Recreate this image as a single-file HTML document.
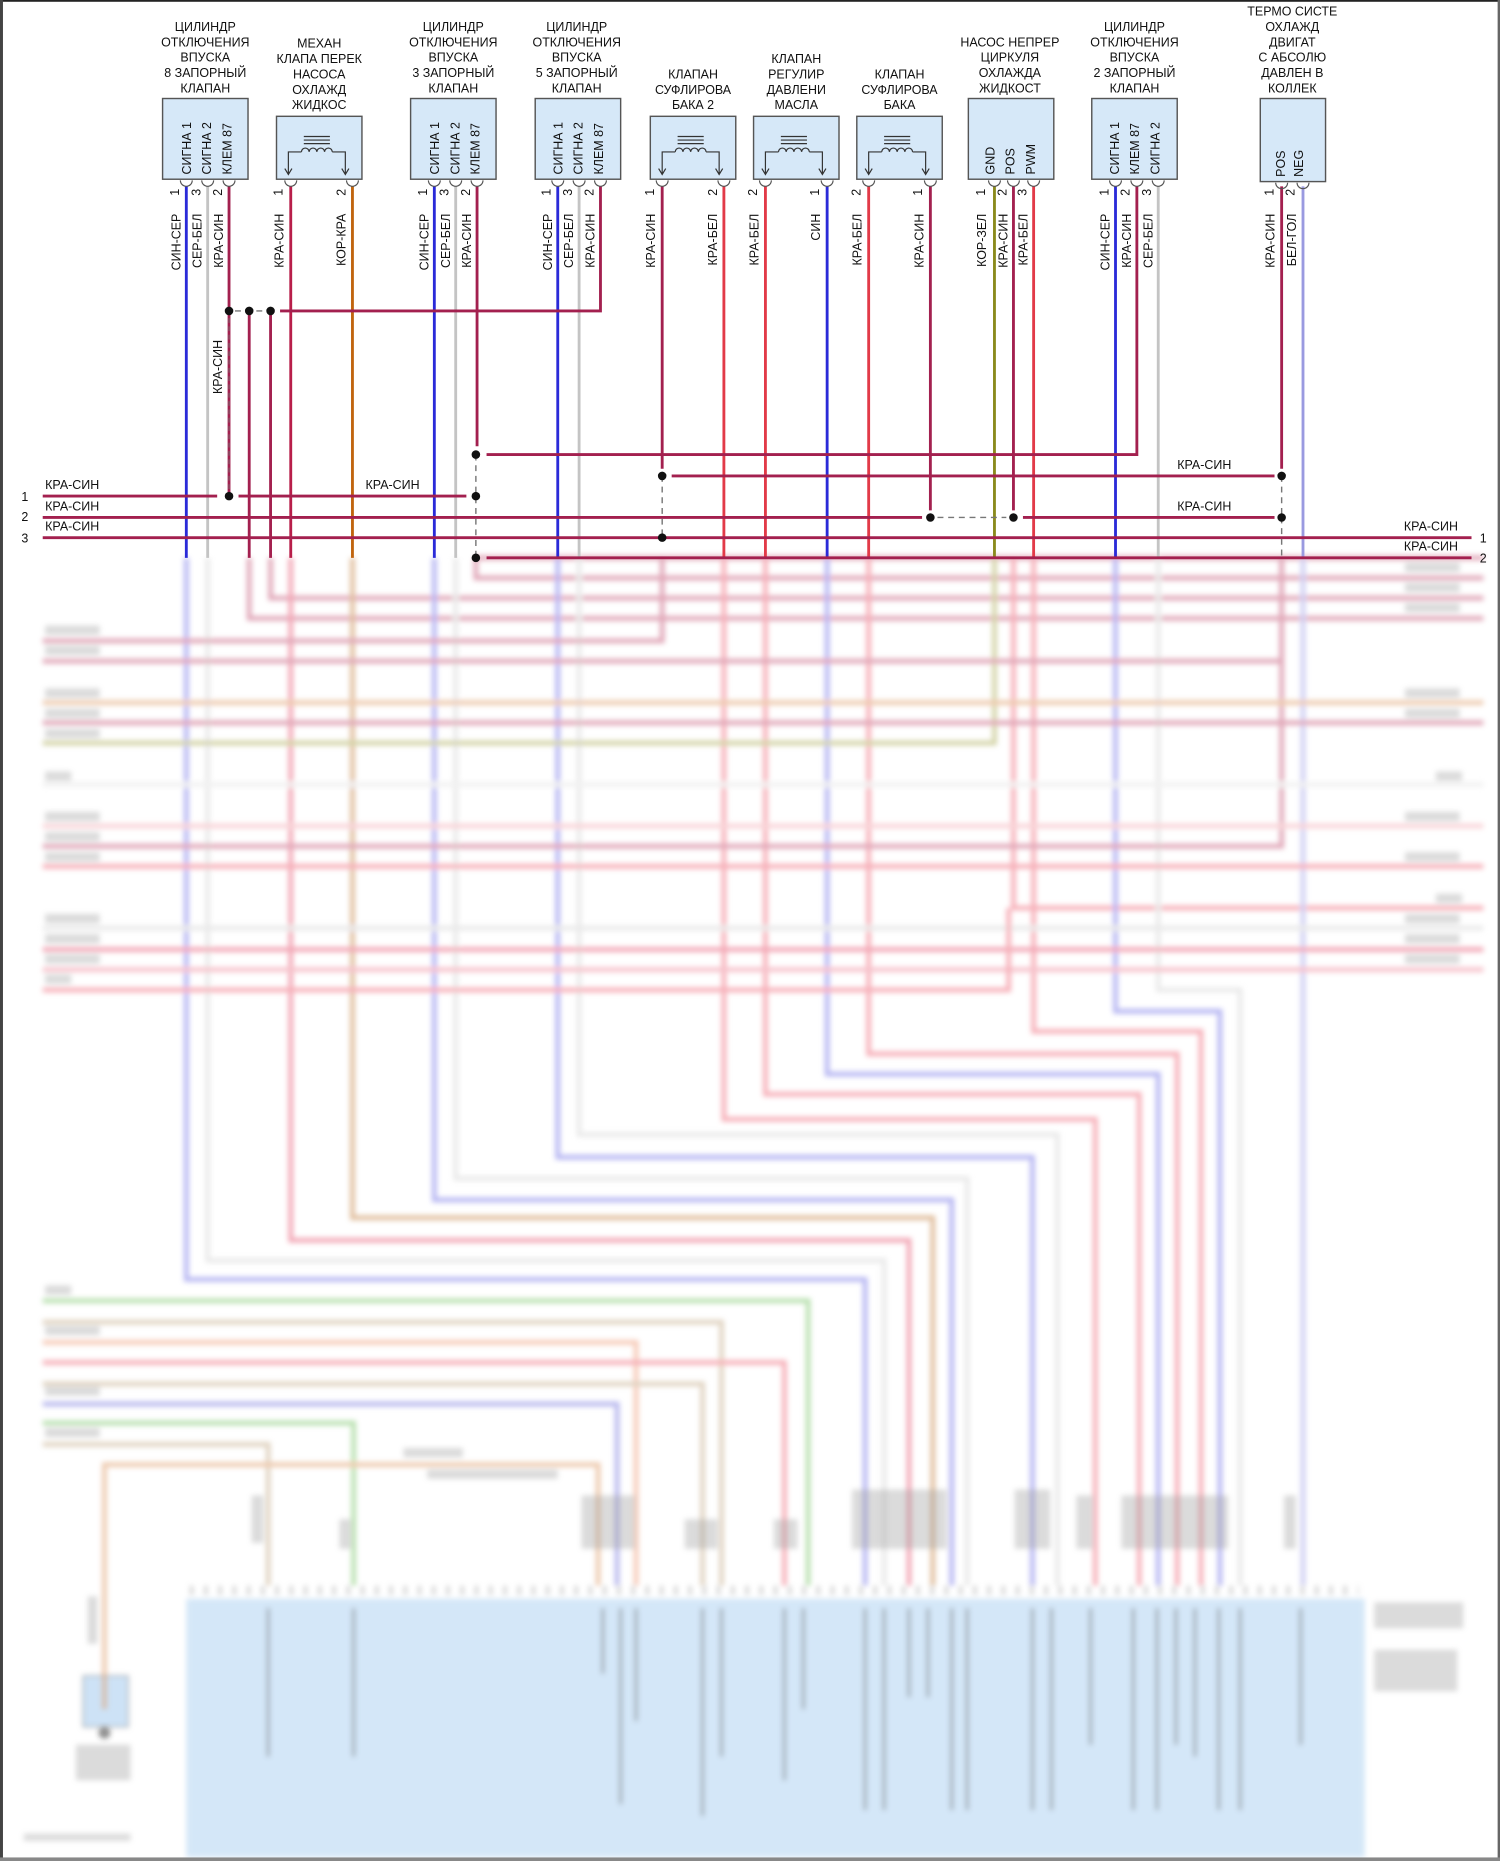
<!DOCTYPE html>
<html><head><meta charset="utf-8"><style>
html,body{margin:0;padding:0;background:#fff;}
svg{display:block;}
text{font-family:"Liberation Sans",sans-serif;fill:#111;}
</style></head><body>
<svg width="1500" height="1861" viewBox="0 0 1264 1568" preserveAspectRatio="none" xmlns="http://www.w3.org/2000/svg">
<defs>
<filter id="bl" x="-5%" y="-5%" width="110%" height="110%"><feGaussianBlur stdDeviation="2.2"/></filter>
</defs>
<rect x="0" y="0" width="1264" height="1568" fill="#fff"/>

<!-- bottom module (under wires) -->
<g filter="url(#bl)">
 <rect x="157" y="1347" width="993" height="218" fill="#d4e7f8"/>
 <rect x="70" y="1412" width="38" height="43" fill="#cde2f6" stroke="#999"/>
</g>

<!-- ============ BLURRED LOWER PART ============ -->
<g filter="url(#bl)" fill="none" stroke-width="4" opacity="0.55">
 <path d="M157 470V1078H729V1336" stroke="#7b7be8"/>
 <path d="M175 470V1062H745V1336" stroke="#d8d8d8"/>
 <path d="M210 470V521H1250" stroke="#c8607f"/>
 <path d="M228 470V504H1250" stroke="#c8607f"/>
 <path d="M245 470V1045H766V1336" stroke="#e8607a"/>
 <path d="M297 470V1026H786V1336" stroke="#c88a50"/>
 <path d="M366 470V1011H802V1336" stroke="#7b7be8"/>
 <path d="M384 470V993H815V1336" stroke="#d8d8d8"/>
 <path d="M401 470V487H1250" stroke="#c8607f"/>
 <path d="M401 470H1250" stroke="#c8607f"/>
 <path d="M470 470V975H870V1336" stroke="#7b7be8"/>
 <path d="M488 470V956H891V1336" stroke="#d8d8d8"/>
 <path d="M558 470V540H36" stroke="#c8607f"/>
 <path d="M610 470V943H923V1336" stroke="#f07080"/>
 <path d="M645 470V922H960V1336" stroke="#f07080"/>
 <path d="M697 470V905H976V1336" stroke="#7b7be8"/>
 <path d="M732 470V888H992V1336" stroke="#f07080"/>
 <path d="M838 470V626H36" stroke="#b0b060"/>
 <path d="M854 470V765H1250" stroke="#f07080"/>
 <path d="M871 470V869H1012V1336" stroke="#f07080"/>
 <path d="M940 470V852H1028V1336" stroke="#7b7be8"/>
 <path d="M976 470V834H1045V1336" stroke="#d8d8d8"/>
 <path d="M1080 470V713H36" stroke="#c8607f"/>
 <path d="M1080 470V557H36" stroke="#c8607f"/>
 <path d="M1098 470V1336" stroke="#a8a8e8"/>
 <path d="M36 592H1250" stroke="#e0a070"/>
 <path d="M36 609H1250" stroke="#c8607f"/>
 <path d="M36 661H1250" stroke="#e6e6e6"/>
 <path d="M36 696H1250" stroke="#f4b0b8"/>
 <path d="M36 730H1250" stroke="#f07080"/>
 <path d="M36 782H1250" stroke="#d8d8d8"/>
 <path d="M36 800H1250" stroke="#e8607a"/>
 <path d="M36 817H1250" stroke="#f090a0"/>
 <path d="M36 834H850V765" stroke="#f07080"/>
 <path d="M36 1096H681V1336" stroke="#80c870"/>
 <path d="M36 1114H608V1336" stroke="#c8b090"/>
 <path d="M36 1131H536V1336" stroke="#f0a080"/>
 <path d="M36 1148H661V1336" stroke="#f07080"/>
 <path d="M36 1166H592V1336" stroke="#c8b090"/>
 <path d="M36 1183H520V1336" stroke="#8080e0"/>
 <path d="M36 1199H298V1336" stroke="#80c870"/>
 <path d="M36 1217H226V1336" stroke="#c8b090"/>
 <path d="M88 1440V1234H504V1336" stroke="#e0a070"/>
</g>
<g filter="url(#bl)" opacity="0.35">
 <g fill="#999">
  <rect x="38" y="527" width="46" height="8"/><rect x="38" y="544" width="46" height="8"/>
  <rect x="38" y="580" width="46" height="8"/><rect x="38" y="597" width="46" height="8"/><rect x="38" y="614" width="46" height="8"/>
  <rect x="38" y="650" width="22" height="8"/><rect x="38" y="684" width="46" height="8"/><rect x="38" y="701" width="46" height="8"/><rect x="38" y="718" width="46" height="8"/>
  <rect x="38" y="770" width="46" height="8"/><rect x="38" y="787" width="46" height="8"/><rect x="38" y="804" width="46" height="8"/><rect x="38" y="821" width="22" height="8"/>
  <rect x="1184" y="474" width="46" height="8"/><rect x="1184" y="491" width="46" height="8"/><rect x="1184" y="508" width="46" height="8"/>
  <rect x="1184" y="580" width="46" height="8"/><rect x="1184" y="597" width="46" height="8"/><rect x="1210" y="650" width="22" height="8"/>
  <rect x="1184" y="684" width="46" height="8"/><rect x="1184" y="718" width="46" height="8"/><rect x="1210" y="753" width="22" height="8"/>
  <rect x="1184" y="770" width="46" height="8"/><rect x="1184" y="787" width="46" height="8"/><rect x="1184" y="804" width="46" height="8"/>
  <rect x="38" y="1083" width="22" height="8"/><rect x="38" y="1117" width="46" height="8"/><rect x="38" y="1168" width="46" height="8"/><rect x="38" y="1203" width="46" height="8"/>
  <rect x="340" y="1220" width="50" height="8"/><rect x="360" y="1238" width="110" height="8"/>
  <rect x="490" y="1260" width="45" height="45"/><rect x="577" y="1280" width="28" height="25"/><rect x="652" y="1280" width="20" height="25"/>
  <rect x="718" y="1255" width="80" height="50"/><rect x="855" y="1255" width="30" height="50"/><rect x="907" y="1260" width="14" height="45"/>
  <rect x="945" y="1260" width="90" height="45"/><rect x="1082" y="1260" width="10" height="45"/><rect x="212" y="1260" width="10" height="40"/><rect x="286" y="1280" width="10" height="25"/>
  <rect x="74" y="1345" width="8" height="40"/><rect x="1158" y="1350" width="75" height="22"/><rect x="1158" y="1390" width="70" height="35"/>
  <rect x="64" y="1470" width="46" height="30"/><rect x="20" y="1545" width="90" height="6"/>
 </g>
</g>
<g filter="url(#bl)" opacity="0.5">
 <circle cx="88" cy="1460" r="5" fill="#222"/>
 <path d="M160 1340 L1145 1340" stroke="#aaa" stroke-width="8" stroke-dasharray="3 9"/>
 <g stroke="#555" stroke-width="2">
  <path d="M226 1355V1480M298 1355V1480M508 1355V1410M523 1355V1520M536 1355V1450M592 1355V1530M608 1355V1480M661 1355V1500M677 1355V1440M729 1355V1525M745 1355V1525M766 1355V1430M782 1355V1430M802 1355V1525M815 1355V1525M870 1355V1525M886 1355V1525M919 1355V1470M955 1355V1525M975 1355V1525M991 1355V1470M1007 1355V1480M1027 1355V1525M1045 1355V1525M1096 1355V1470"/>
 </g>
</g>

<!-- ============ SHARP UPPER PART ============ -->
<g fill="none" stroke-width="2.4">
 <path d="M157 157V470" stroke="#2a2ad8"/>
 <path d="M175 157V470" stroke="#c4c4c4"/>
 <path d="M193 157V418" stroke="#a3204f"/>
 <path d="M210 262V470" stroke="#a3204f"/>
 <path d="M228 262V470" stroke="#a3204f"/>
 <path d="M245 157V470" stroke="#b81e4a"/>
 <path d="M297 157V470" stroke="#c0640e"/>
 <path d="M366 157V470" stroke="#2a2ad8"/>
 <path d="M384 157V470" stroke="#c4c4c4"/>
 <path d="M402 157V376" stroke="#a3204f"/>
 <path d="M470 157V470" stroke="#2a2ad8"/>
 <path d="M488 157V470" stroke="#c4c4c4"/>
 <path d="M506 157V262H236" stroke="#a3204f"/>
 <path d="M558 157V395" stroke="#a3204f"/>
 <path d="M610 157V470" stroke="#e23a48"/>
 <path d="M645 157V470" stroke="#e23a48"/>
 <path d="M697 157V470" stroke="#2a2ad8"/>
 <path d="M732 157V470" stroke="#e23a48"/>
 <path d="M784 157V430" stroke="#a3204f"/>
 <path d="M838 157V470" stroke="#8a8a1c"/>
 <path d="M854 157V430" stroke="#a3204f"/>
 <path d="M871 157V470" stroke="#e23a48"/>
 <path d="M940 157V470" stroke="#2a2ad8"/>
 <path d="M958 157V383H410" stroke="#a3204f"/>
 <path d="M976 157V470" stroke="#c4c4c4"/>
 <path d="M1080 157V395" stroke="#a3204f"/>
 <path d="M1098 157V470" stroke="#9a9ae0"/>
 <path d="M566 401H1074" stroke="#a3204f"/>
 <path d="M36 418H183M201 418H393" stroke="#a3204f"/>
 <path d="M36 436H777M862 436H1074" stroke="#a3204f"/>
 <path d="M36 453H1240" stroke="#a3204f"/>
 <path d="M410 470H1240" stroke="#a3204f"/>
</g>
<g stroke="#777" stroke-width="1.2" stroke-dasharray="5 4" fill="none">
 <path d="M401 383V470M558 401V453M790 436H848M1080 401V436M1080 436V470M198 262H224"/>
</g>
<g stroke="#777" stroke-width="1.2" fill="none" stroke-dasharray="4 3" opacity=".6"><path d="M193 268V412"/></g>
<g fill="#111">
 <circle cx="193" cy="262" r="3.6"/><circle cx="210" cy="262" r="3.6"/><circle cx="228" cy="262" r="3.6"/>
 <circle cx="193" cy="418" r="3.6"/><circle cx="401" cy="383" r="3.6"/><circle cx="401" cy="418" r="3.6"/><circle cx="401" cy="470" r="3.6"/>
 <circle cx="558" cy="401" r="3.6"/><circle cx="558" cy="453" r="3.6"/>
 <circle cx="784" cy="436" r="3.6"/><circle cx="854" cy="436" r="3.6"/>
 <circle cx="1080" cy="401" r="3.6"/><circle cx="1080" cy="436" r="3.6"/>
</g>
<g font-size="10.5">
 <text x="38" y="412">КРА-СИН</text><text x="38" y="430">КРА-СИН</text><text x="38" y="447">КРА-СИН</text>
 <text x="308" y="412">КРА-СИН</text><text x="992" y="395">КРА-СИН</text><text x="992" y="430">КРА-СИН</text>
 <text x="1183" y="447">КРА-СИН</text><text x="1183" y="464">КРА-СИН</text>
 <text x="18" y="422">1</text><text x="18" y="439">2</text><text x="18" y="457">3</text>
 <text x="1247" y="457">1</text><text x="1247" y="474">2</text>
 <text transform="translate(187,332) rotate(-90)">КРА-СИН</text>
</g>

<g fill="#d6e8f8" stroke="#555" stroke-width="1.2">
 <rect x="137" y="83" width="72" height="68"/>
 <rect x="233" y="98" width="72" height="53"/>
 <rect x="346" y="83" width="72" height="68"/>
 <rect x="451" y="83" width="72" height="68"/>
 <rect x="548" y="98" width="72" height="53"/>
 <rect x="635" y="98" width="72" height="53"/>
 <rect x="722" y="98" width="72" height="53"/>
 <rect x="816" y="83" width="72" height="68"/>
 <rect x="920" y="83" width="72" height="68"/>
 <rect x="1062" y="83" width="55" height="70"/>
</g>
<g fill="none" stroke="#333" stroke-width="1">
 <g id="coil"><path d="M243 146V128H254 M291 146V128H280 M254 128a3.2 3.2 0 0 1 6.5 0a3.2 3.2 0 0 1 6.5 0a3.2 3.2 0 0 1 6.5 0a3.2 3.2 0 0 1 6.5 0 M256 121H278M256 118H278M256 115H278 M240 142l3 5l3-5M288 142l3 5l3-5"/></g>
 <use href="#coil" x="315"/><use href="#coil" x="402"/><use href="#coil" x="489"/>
</g>
<g fill="none" stroke="#555" stroke-width="1">
 <path d="M152 152a5 5 0 0 0 10 0M170 152a5 5 0 0 0 10 0M188 152a5 5 0 0 0 10 0M240 152a5 5 0 0 0 10 0M292 152a5 5 0 0 0 10 0M361 152a5 5 0 0 0 10 0M379 152a5 5 0 0 0 10 0M397 152a5 5 0 0 0 10 0M465 152a5 5 0 0 0 10 0M483 152a5 5 0 0 0 10 0M501 152a5 5 0 0 0 10 0M553 152a5 5 0 0 0 10 0M605 152a5 5 0 0 0 10 0M640 152a5 5 0 0 0 10 0M692 152a5 5 0 0 0 10 0M727 152a5 5 0 0 0 10 0M779 152a5 5 0 0 0 10 0M833 152a5 5 0 0 0 10 0M849 152a5 5 0 0 0 10 0M866 152a5 5 0 0 0 10 0M935 152a5 5 0 0 0 10 0M953 152a5 5 0 0 0 10 0M971 152a5 5 0 0 0 10 0M1075 154a5 5 0 0 0 10 0M1093 154a5 5 0 0 0 10 0"/>
</g>
<g font-size="10.5" text-anchor="middle">
 <text x="173" y="26">ЦИЛИНДР</text><text x="173" y="39">ОТКЛЮЧЕНИЯ</text><text x="173" y="52">ВПУСКА</text><text x="173" y="65">8 ЗАПОРНЫЙ</text><text x="173" y="78">КЛАПАН</text>
 <text x="269" y="40">МЕХАН</text><text x="269" y="53">КЛАПА ПЕРЕК</text><text x="269" y="66">НАСОСА</text><text x="269" y="79">ОХЛАЖД</text><text x="269" y="92">ЖИДКОС</text>
 <text x="382" y="26">ЦИЛИНДР</text><text x="382" y="39">ОТКЛЮЧЕНИЯ</text><text x="382" y="52">ВПУСКА</text><text x="382" y="65">3 ЗАПОРНЫЙ</text><text x="382" y="78">КЛАПАН</text>
 <text x="486" y="26">ЦИЛИНДР</text><text x="486" y="39">ОТКЛЮЧЕНИЯ</text><text x="486" y="52">ВПУСКА</text><text x="486" y="65">5 ЗАПОРНЫЙ</text><text x="486" y="78">КЛАПАН</text>
 <text x="584" y="66">КЛАПАН</text><text x="584" y="79">СУФЛИРОВА</text><text x="584" y="92">БАКА 2</text>
 <text x="671" y="53">КЛАПАН</text><text x="671" y="66">РЕГУЛИР</text><text x="671" y="79">ДАВЛЕНИ</text><text x="671" y="92">МАСЛА</text>
 <text x="758" y="66">КЛАПАН</text><text x="758" y="79">СУФЛИРОВА</text><text x="758" y="92">БАКА</text>
 <text x="851" y="39">НАСОС НЕПРЕР</text><text x="851" y="52">ЦИРКУЛЯ</text><text x="851" y="65">ОХЛАЖДА</text><text x="851" y="78">ЖИДКОСТ</text>
 <text x="956" y="26">ЦИЛИНДР</text><text x="956" y="39">ОТКЛЮЧЕНИЯ</text><text x="956" y="52">ВПУСКА</text><text x="956" y="65">2 ЗАПОРНЫЙ</text><text x="956" y="78">КЛАПАН</text>
 <text x="1089" y="13">ТЕРМО СИСТЕ</text><text x="1089" y="26">ОХЛАЖД</text><text x="1089" y="39">ДВИГАТ</text><text x="1089" y="52">С АБСОЛЮ</text><text x="1089" y="65">ДАВЛЕН В</text><text x="1089" y="78">КОЛЛЕК</text>
</g>
<g font-size="10.5">
 <text transform="translate(161,147) rotate(-90)">СИГНА 1</text><text transform="translate(178,147) rotate(-90)">СИГНА 2</text><text transform="translate(195,147) rotate(-90)">КЛЕМ 87</text>
 <text transform="translate(370,147) rotate(-90)">СИГНА 1</text><text transform="translate(387,147) rotate(-90)">СИГНА 2</text><text transform="translate(404,147) rotate(-90)">КЛЕМ 87</text>
 <text transform="translate(474,147) rotate(-90)">СИГНА 1</text><text transform="translate(491,147) rotate(-90)">СИГНА 2</text><text transform="translate(508,147) rotate(-90)">КЛЕМ 87</text>
 <text transform="translate(838,147) rotate(-90)">GND</text><text transform="translate(855,147) rotate(-90)">POS</text><text transform="translate(872,147) rotate(-90)">PWM</text>
 <text transform="translate(943,147) rotate(-90)">СИГНА 1</text><text transform="translate(960,147) rotate(-90)">КЛЕМ 87</text><text transform="translate(977,147) rotate(-90)">СИГНА 2</text>
 <text transform="translate(1083,149) rotate(-90)">POS</text><text transform="translate(1098,149) rotate(-90)">NEG</text>
</g>
<g font-size="10.5" text-anchor="middle">
 <text transform="translate(151,162) rotate(-90)">1</text><text transform="translate(169,162) rotate(-90)">3</text><text transform="translate(187,162) rotate(-90)">2</text>
 <text transform="translate(238,162) rotate(-90)">1</text><text transform="translate(291,162) rotate(-90)">2</text>
 <text transform="translate(360,162) rotate(-90)">1</text><text transform="translate(378,162) rotate(-90)">3</text><text transform="translate(396,162) rotate(-90)">2</text>
 <text transform="translate(464,162) rotate(-90)">1</text><text transform="translate(482,162) rotate(-90)">3</text><text transform="translate(500,162) rotate(-90)">2</text>
 <text transform="translate(551,162) rotate(-90)">1</text><text transform="translate(604,162) rotate(-90)">2</text>
 <text transform="translate(638,162) rotate(-90)">2</text><text transform="translate(690,162) rotate(-90)">1</text>
 <text transform="translate(725,162) rotate(-90)">2</text><text transform="translate(777,162) rotate(-90)">1</text>
 <text transform="translate(830,162) rotate(-90)">1</text><text transform="translate(848,162) rotate(-90)">2</text><text transform="translate(865,162) rotate(-90)">3</text>
 <text transform="translate(934,162) rotate(-90)">1</text><text transform="translate(952,162) rotate(-90)">2</text><text transform="translate(970,162) rotate(-90)">3</text>
 <text transform="translate(1073,162) rotate(-90)">1</text><text transform="translate(1091,162) rotate(-90)">2</text>
</g>
<g font-size="10.5" text-anchor="end">
 <text transform="translate(152,180) rotate(-90)">СИН-СЕР</text><text transform="translate(170,180) rotate(-90)">СЕР-БЕЛ</text><text transform="translate(188,180) rotate(-90)">КРА-СИН</text>
 <text transform="translate(239,180) rotate(-90)">КРА-СИН</text><text transform="translate(291,180) rotate(-90)">КОР-КРА</text>
 <text transform="translate(361,180) rotate(-90)">СИН-СЕР</text><text transform="translate(379,180) rotate(-90)">СЕР-БЕЛ</text><text transform="translate(397,180) rotate(-90)">КРА-СИН</text>
 <text transform="translate(465,180) rotate(-90)">СИН-СЕР</text><text transform="translate(483,180) rotate(-90)">СЕР-БЕЛ</text><text transform="translate(501,180) rotate(-90)">КРА-СИН</text>
 <text transform="translate(552,180) rotate(-90)">КРА-СИН</text><text transform="translate(604,180) rotate(-90)">КРА-БЕЛ</text>
 <text transform="translate(639,180) rotate(-90)">КРА-БЕЛ</text><text transform="translate(691,180) rotate(-90)">СИН</text>
 <text transform="translate(726,180) rotate(-90)">КРА-БЕЛ</text><text transform="translate(778,180) rotate(-90)">КРА-СИН</text>
 <text transform="translate(831,180) rotate(-90)">КОР-ЗЕЛ</text><text transform="translate(849,180) rotate(-90)">КРА-СИН</text><text transform="translate(866,180) rotate(-90)">КРА-БЕЛ</text>
 <text transform="translate(935,180) rotate(-90)">СИН-СЕР</text><text transform="translate(953,180) rotate(-90)">КРА-СИН</text><text transform="translate(971,180) rotate(-90)">СЕР-БЕЛ</text>
 <text transform="translate(1074,180) rotate(-90)">КРА-СИН</text><text transform="translate(1092,180) rotate(-90)">БЕЛ-ГОЛ</text>
</g>
<rect x="0" y="0" width="1264" height="1.5" fill="#222"/>
<rect x="0" y="0" width="2.5" height="1568" fill="#444"/>
<rect x="1262" y="0" width="2" height="1568" fill="#666"/>
<rect x="0" y="1565" width="1264" height="3" fill="#888"/>
</svg>
</body></html>
